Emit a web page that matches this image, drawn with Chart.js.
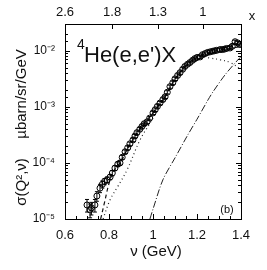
<!DOCTYPE html>
<html>
<head>
<meta charset="utf-8">
<script src="https://cdn.jsdelivr.net/npm/chart.js@4"></script>
<style>
  html, body { margin: 0; padding: 0; background: #fff; }
  #wrap { width: 267px; height: 270px; position: relative; }
</style>
</head>
<body>
<div id="wrap"><canvas id="chart" width="267" height="270"></canvas></div>
<script>
// measured cross sections, nu in GeV
const nu = [0.700, 0.714, 0.720, 0.736, 0.745, 0.759, 0.770, 0.780, 0.791, 0.805,
  0.815, 0.827, 0.840, 0.850, 0.860, 0.873, 0.885, 0.895, 0.909, 0.918,
  0.927, 0.940, 0.950, 0.960, 0.973, 0.985, 1.000, 1.010, 1.020, 1.032,
  1.045, 1.055, 1.065, 1.077, 1.090, 1.100, 1.112, 1.123, 1.135, 1.145,
  1.157, 1.168, 1.180, 1.190, 1.200, 1.214, 1.225, 1.237, 1.248, 1.259,
  1.270, 1.280, 1.290, 1.305, 1.315, 1.325, 1.335, 1.350, 1.360, 1.373,
  1.385, 1.395];
const sigma = [1.78e-5, 1.45e-5, 1.58e-5, 1.78e-5, 2.57e-5, 3.55e-5, 4.17e-5, 4.68e-5, 5.0e-5, 5.6e-5,
  6.6e-5, 8.1e-5, 9.5e-5, 1.0e-4, 1.26e-4, 1.58e-4, 1.86e-4, 2.19e-4, 2.57e-4, 3.02e-4,
  3.47e-4, 3.98e-4, 4.47e-4, 5.0e-4, 5.4e-4, 6.3e-4, 7.8e-4, 8.9e-4, 1.02e-3, 1.17e-3,
  1.35e-3, 1.51e-3, 1.82e-3, 2.29e-3, 2.69e-3, 3.16e-3, 3.63e-3, 4.07e-3, 4.68e-3, 5.25e-3,
  5.75e-3, 6.17e-3, 6.76e-3, 7.24e-3, 7.59e-3, 7.76e-3, 8.51e-3, 8.91e-3, 9.33e-3, 9.55e-3,
  9.77e-3, 1.0e-2, 1.02e-2, 1.05e-2, 1.05e-2, 1.07e-2, 1.10e-2, 1.12e-2, 1.20e-2, 1.45e-2,
  1.38e-2, 1.29e-2];
const sigmaErr = [0.45e-5, 0.4e-5, 0.4e-5, 0.45e-5, 0.5e-5, 0.6e-5, 0.6e-5, 0.6e-5, 0.6e-5, 0.6e-5,
  0.7e-5, 0.8e-5, 0.9e-5, 0.9e-5, 1.0e-5, 1.2e-5, 1.4e-5, 1.6e-5, 1.8e-5, 2.1e-5,
  2.4e-5, 2.8e-5, 3.1e-5, 3.5e-5, 3.8e-5, 4.4e-5, 5.4e-5, 6.2e-5, 7.1e-5, 8.2e-5,
  9.4e-5, 1.0e-4, 1.2e-4, 1.5e-4, 1.8e-4, 2.1e-4, 2.4e-4, 2.7e-4, 3.1e-4, 3.5e-4,
  3.8e-4, 4.1e-4, 4.5e-4, 4.8e-4, 5.0e-4, 5.2e-4, 5.7e-4, 6.0e-4, 6.2e-4, 6.4e-4,
  6.5e-4, 6.7e-4, 6.8e-4, 7.0e-4, 7.0e-4, 7.2e-4, 7.4e-4, 7.5e-4, 8.0e-4, 9.5e-4,
  9.0e-4, 8.5e-4];

// calculations
const dotNu = [0.773, 0.805, 0.840, 0.882, 0.941, 0.986, 1.045, 1.100, 1.168, 1.214, 1.259, 1.305, 1.350, 1.400];
const dotSigma = [1.0e-5, 2.2e-5, 3.8e-5, 7.5e-5, 2.57e-4, 5.1e-4, 1.33e-3, 3.0e-3, 6.2e-3, 7.8e-3, 7.4e-3, 6.9e-3, 6.2e-3, 4.6e-3];

const dashNu = [0.762, 0.780, 0.800, 0.820, 0.850, 0.900, 0.950, 1.000, 1.050, 1.100, 1.150, 1.200, 1.250, 1.300, 1.350, 1.400];
const dashSigma = [1.0e-5, 2.0e-5, 4.3e-5, 7.0e-5, 1.0e-4, 2.3e-4, 4.5e-4, 7.8e-4, 1.4e-3, 3.1e-3, 5.4e-3, 7.6e-3, 9.2e-3, 1.03e-2, 1.1e-2, 1.2e-2];

const dashDotNu = [0.986, 1.000, 1.045, 1.100, 1.159, 1.200, 1.250, 1.273, 1.327, 1.386, 1.400];
const dashDotSigma = [1.0e-5, 1.5e-5, 5.0e-5, 1.23e-4, 3.2e-4, 6.0e-4, 1.33e-3, 1.86e-3, 3.7e-3, 6.9e-3, 7.8e-3];

// top axis: Bjorken x at the matching nu
const topNu = [0.6, 0.814, 1.023, 1.227];
const topLabels = ['2.6', '1.8', '1.3', '1'];

const yDecades = [1e-5, 1e-4, 1e-3, 1e-2];
const yDecadeLabels = ['10\u207B\u2075', '10\u207B\u2074', '10\u207B\u00B3', '10\u207B\u00B2'];

const FONT = "'Liberation Sans', Arial, sans-serif";

const toXY = (xs, ys) => xs.map((x, i) => ({ x: x, y: ys[i] }));

const errorBars = {
    id: 'errorBars',
    afterDatasetsDraw(chart) {
        const { ctx, scales: { x, y } } = chart;
        ctx.save();
        ctx.strokeStyle = '#000';
        ctx.lineWidth = 1;
        nu.forEach((v, i) => {
            const px = x.getPixelForValue(v);
            const lo = y.getPixelForValue(Math.max(sigma[i] - sigmaErr[i], 1e-6));
            const hi = y.getPixelForValue(sigma[i] + sigmaErr[i]);
            ctx.beginPath();
            ctx.moveTo(px, lo); ctx.lineTo(px, hi);
            ctx.moveTo(px - 2, lo); ctx.lineTo(px + 2, lo);
            ctx.moveTo(px - 2, hi); ctx.lineTo(px + 2, hi);
            ctx.stroke();
        });
        ctx.restore();
    }
};

// frame, inward ticks and free text
const frame = {
    id: 'frame',
    afterDraw(chart) {
        const { ctx, chartArea: a, scales: { x, y, x2 } } = chart;
        ctx.save();
        ctx.strokeStyle = '#000';
        ctx.lineWidth = 1;
        ctx.strokeRect(a.left + 0.5, a.top + 0.5, a.right - a.left, a.bottom - a.top);

        ctx.beginPath();
        x.ticks.forEach(t => {
            const px = Math.round(x.getPixelForValue(t.value)) + 0.5;
            const major = Math.abs(t.value * 5 - Math.round(t.value * 5)) < 1e-6;
            const len = major ? 5 : 3;
            ctx.moveTo(px, a.bottom); ctx.lineTo(px, a.bottom - len);
        });
        x2.ticks.forEach(t => {
            const px = Math.round(x2.getPixelForValue(t.value)) + 0.5;
            ctx.moveTo(px, a.top); ctx.lineTo(px, a.top + 5);
        });
        y.ticks.forEach(t => {
            if (t.value > y.max || t.value < y.min) return;
            const py = Math.round(y.getPixelForValue(t.value)) + 0.5;
            const lg = Math.log10(t.value);
            const major = Math.abs(lg - Math.round(lg)) < 1e-6;
            const len = major ? 5 : 3;
            ctx.moveTo(a.left, py); ctx.lineTo(a.left + len, py);
            ctx.moveTo(a.right, py); ctx.lineTo(a.right - len, py);
        });
        ctx.stroke();

        ctx.fillStyle = '#111';
        ctx.textBaseline = 'middle';
        ctx.textAlign = 'center';
        ctx.font = '13px ' + FONT;
        ctx.fillText('x', 252, 16);

        ctx.font = '15px ' + FONT;
        ctx.fillText('\u03BD (GeV)', 156, 252);

        ctx.font = '11px ' + FONT;
        ctx.fillText('(b)', 227, 210);

        ctx.textAlign = 'left';
        ctx.font = '14px ' + FONT;
        ctx.fillText('4', 77, 45);
        ctx.font = '22px ' + FONT;
        ctx.fillText("He(e,e')X", 84, 56);

        ctx.translate(22, 123);
        ctx.rotate(-Math.PI / 2);
        ctx.textAlign = 'center';
        ctx.font = '15px ' + FONT;
        ctx.fillText('\u03C3(Q\u00B2,\u03BD)', -59, 0);
        ctx.fillText('\u00B5barn/sr/GeV', 29, 0);
        ctx.restore();
    }
};

new Chart(document.getElementById('chart'), {
    type: 'scatter',
    data: {
        datasets: [
            {
                label: 'data',
                data: toXY(nu, sigma),
                pointStyle: 'circle',
                pointRadius: 3,
                pointBorderWidth: 1,
                borderColor: '#000',
                backgroundColor: 'rgba(0,0,0,0)',
                showLine: false,
                order: 0
            },
            {
                label: 'dotted',
                data: toXY(dotNu, dotSigma),
                showLine: true,
                borderColor: '#222',
                borderWidth: 1.2,
                borderDash: [1, 3],
                pointRadius: 0,
                tension: 0.4,
                order: 1
            },
            {
                label: 'dashed',
                data: toXY(dashNu, dashSigma),
                showLine: true,
                borderColor: '#111',
                borderWidth: 1.2,
                borderDash: [4, 3],
                pointRadius: 0,
                tension: 0.4,
                order: 1
            },
            {
                label: 'dashdot',
                data: toXY(dashDotNu, dashDotSigma),
                showLine: true,
                borderColor: '#222',
                borderWidth: 1,
                borderDash: [7, 2, 1, 2],
                pointRadius: 0,
                tension: 0.3,
                order: 1
            }
        ]
    },
    options: {
        responsive: false,
        animation: false,
        events: [],
        layout: { padding: { left: 0, right: 26, top: 0, bottom: 0 } },
        plugins: { legend: { display: false }, tooltip: { enabled: false } },
        scales: {
            x: {
                type: 'linear',
                position: 'bottom',
                min: 0.6,
                max: 1.4,
                afterFit: s => { s.height = 51; },
                grid: { display: false, drawTicks: false },
                border: { display: false },
                ticks: {
                    stepSize: 0.05,
                    autoSkip: false,
                    maxRotation: 0,
                    padding: 9,
                    color: '#111',
                    font: { size: 13, family: FONT },
                    callback: v => Math.abs(v * 5 - Math.round(v * 5)) < 1e-6 ? String(+v.toFixed(1)) : ''
                }
            },
            x2: {
                type: 'linear',
                position: 'top',
                min: 0.6,
                max: 1.4,
                afterFit: s => { s.height = 24; },
                afterBuildTicks: s => { s.ticks = topNu.map(v => ({ value: v })); },
                grid: { display: false, drawTicks: false },
                border: { display: false },
                ticks: {
                    autoSkip: false,
                    maxRotation: 0,
                    padding: 4,
                    color: '#111',
                    font: { size: 13, family: FONT },
                    callback: (v, i) => topLabels[i]
                }
            },
            y: {
                type: 'logarithmic',
                min: 1e-5,
                max: 0.03,
                afterFit: s => { s.width = 65; },
                grid: { display: false, drawTicks: false },
                border: { display: false },
                ticks: {
                    autoSkip: false,
                    padding: 10,
                    color: '#111',
                    font: { size: 12, family: FONT },
                    callback: v => {
                        const i = yDecades.findIndex(d => Math.abs(d - v) / d < 1e-6);
                        return i >= 0 ? yDecadeLabels[i] : '';
                    }
                }
            }
        }
    },
    plugins: [errorBars, frame]
});
</script>
</body>
</html>
